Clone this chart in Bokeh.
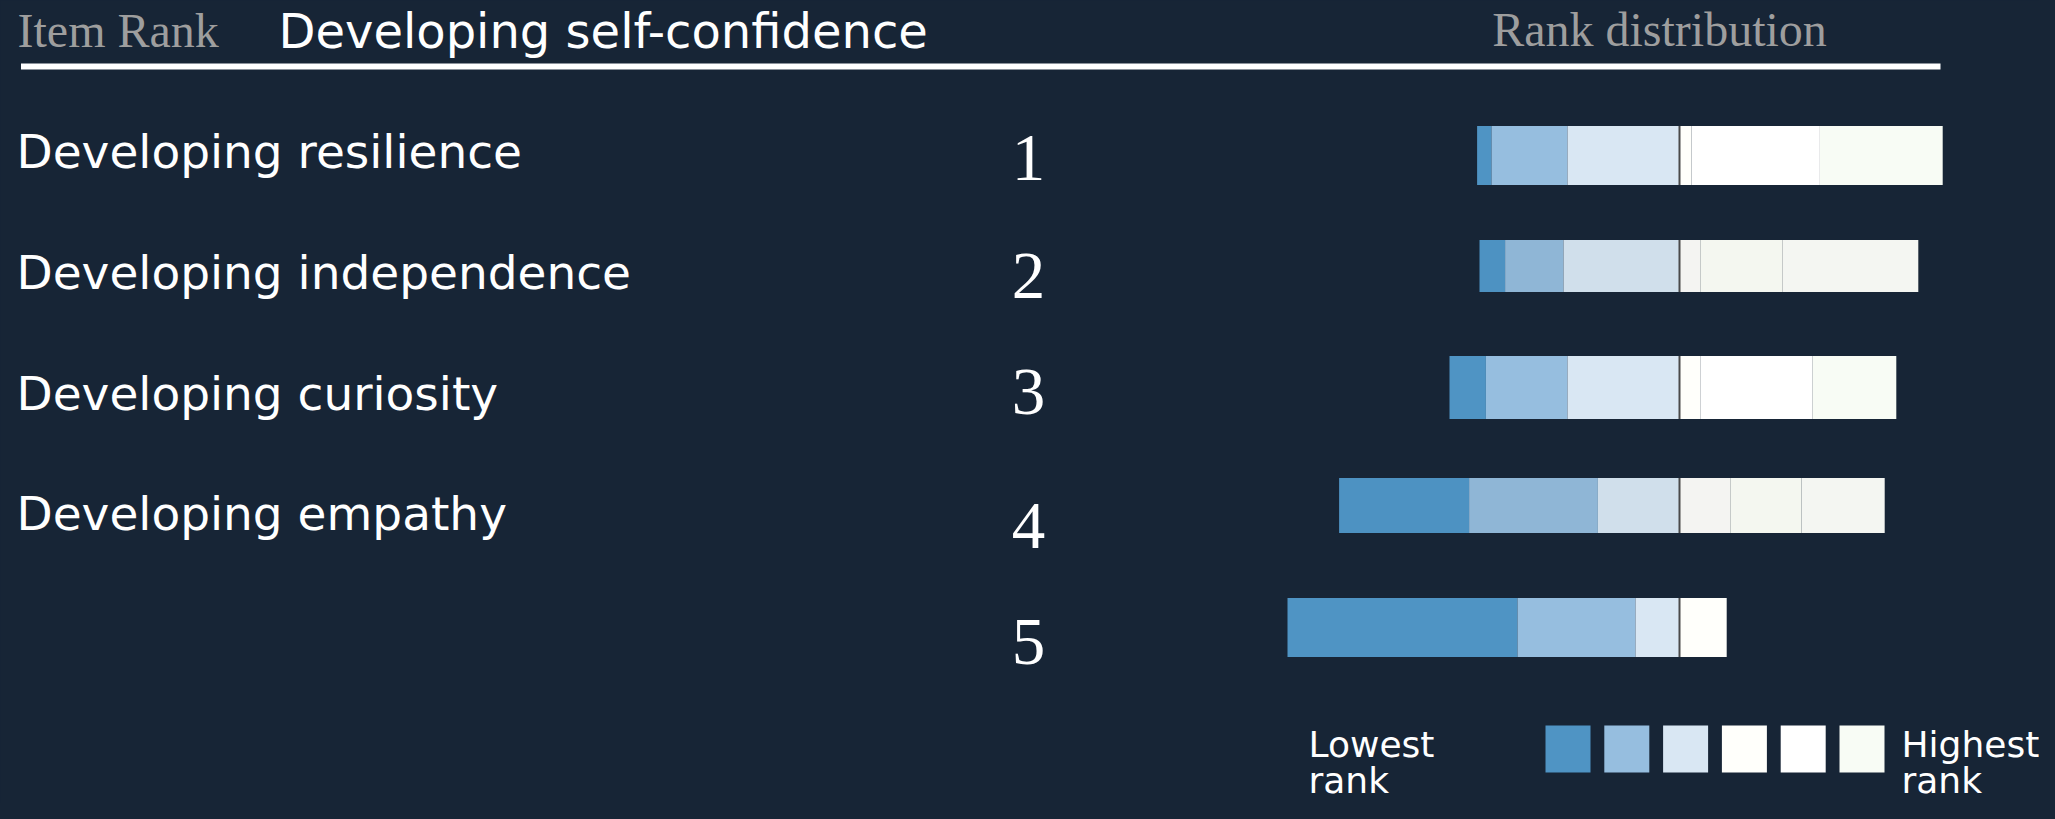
from bokeh.plotting import figure
from bokeh.models import Range1d, ColumnDataSource
from bokeh.core.properties import value
from bokeh.embed import file_html
from bokeh.resources import INLINE

# ---------------- data ----------------
title_item = "Developing self-confidence"
items = ["Developing resilience", "Developing independence",
         "Developing curiosity", "Developing empathy"]
ranks = ["1", "2", "3", "4", "5"]

# share of responses per rank level (lowest -> highest), one value per bar
lvl1 = [3.6, 6.4, 9.1, 32.5, 57.5]
lvl2 = [19.0, 14.6, 20.4, 32.2, 29.5]
lvl3 = [28.0, 29.0, 28.0, 20.4, 11.0]
lvl4 = [3.0, 5.2, 5.2, 12.7, 11.8]
lvl5 = [32.1, 20.6, 28.1, 17.8, 0.0]
lvl6 = [30.7, 33.9, 20.9, 20.8, 0.0]
levels = [lvl1, lvl2, lvl3, lvl4, lvl5, lvl6]
legend_low = ["Lowest", "rank"]
legend_high = ["Highest", "rank"]

# ---------------- style / layout ----------------
BG = "#172536"
PALETTE = ["#4f94c4", "#96bedf", "#d9e7f3", "#fffffb", "#ffffff", "#f8fcf5"]
PALETTE_DIM = ["#4d92c2", "#8fb6d6", "#d0dfeb", "#f4f4f2", "#f4f7f0", "#f4f6f2"]
W, H = 2039, 803
CENTER_PX = 1679.0
PX_PER_UNIT = 4.0
row_y = [155, 265.5, 387, 505, 627]
row_h = [59, 52, 63, 55, 59]
row_dim = [False, True, False, True, False]
SANS = "DejaVu Sans"
SERIF = "Liberation Serif"
K_SANS = 0.36   # baseline correction (fraction of font size)
K_SERIF = 0.38


def ys(baselines, size, k):
    return [b - k * size for b in baselines]


p = figure(width=W, height=H, x_range=Range1d(0, W), y_range=Range1d(H, 0),
           output_backend="svg", toolbar_location=None,
           x_axis_location=None, y_axis_location=None, min_border=0,
           background_fill_color=BG, border_fill_color=BG,
           outline_line_color=None)
p.grid.visible = False
p.extra_x_ranges = {"val": Range1d(-CENTER_PX / PX_PER_UNIT, (W - CENTER_PX) / PX_PER_UNIT)}

# ---------------- header ----------------
p.text(x=[17], y=ys([48], 48, K_SERIF), text=["Item Rank"], text_font=value(SERIF),
       text_font_size="48px", text_color="#9e9e9e", text_baseline="alphabetic")
p.text(x=[278], y=ys([48], 48, K_SANS), text=[title_item], text_font=value(SANS),
       text_font_size="48px", text_color="white", text_baseline="alphabetic")
p.text(x=[1659], y=ys([47], 48, K_SERIF), text=["Rank distribution"],
       text_font=value(SERIF), text_font_size="48px", text_color="#9e9e9e",
       text_baseline="alphabetic", text_align="center")
p.quad(left=[20.5], right=[1940], top=[63], bottom=[69], fill_color="white",
       line_color=None)

# ---------------- item labels ----------------
label_base = [168, 289, 410, 530]
p.text(x=[16] * len(items), y=ys(label_base, 47, K_SANS), text=items,
       text_font=value(SANS), text_font_size="47px", text_color="white",
       text_baseline="alphabetic")

# ---------------- rank numbers ----------------
rank_base = [183, 301, 417, 551, 667]
p.text(x=[1028] * len(ranks), y=ys(rank_base, 67, K_SERIF), text=ranks,
       text_font=value(SERIF), text_font_size="67px", text_color="white",
       text_baseline="alphabetic", text_align="center")

# ---------------- diverging stacked bars ----------------
n = len(ranks)
left_total = [lvl1[i] + lvl2[i] + lvl3[i] for i in range(n)]
starts = [[-left_total[i] for i in range(n)]]
for k in range(len(levels) - 1):
    prev = starts[-1]
    starts.append([prev[i] + levels[k][i] for i in range(n)])
for k, lvl in enumerate(levels):
    cols = [PALETTE_DIM[k] if row_dim[i] else PALETTE[k] for i in range(n)]
    src = ColumnDataSource(dict(
        y=row_y, h=row_h, c=cols,
        left=starts[k], right=[starts[k][i] + lvl[i] for i in range(n)]))
    p.hbar(y="y", left="left", right="right", height="h", source=src,
           fill_color="c", line_color=None, x_range_name="val")

# divider between low and high ranks
p.segment(x0=[0] * n, x1=[0] * n,
          y0=[row_y[i] - row_h[i] / 2 for i in range(n)],
          y1=[row_y[i] + row_h[i] / 2 for i in range(n)],
          line_color="#4a4a4a", line_width=2, x_range_name="val")

# ---------------- legend ----------------
LEG_X0, LEG_PITCH, LEG_W, LEG_TOP, LEG_BOT = 1545, 58.8, 45, 725, 772
p.quad(left=[LEG_X0 + i * LEG_PITCH for i in range(len(PALETTE))],
       right=[LEG_X0 + i * LEG_PITCH + LEG_W for i in range(len(PALETTE))],
       top=[LEG_TOP] * len(PALETTE), bottom=[LEG_BOT] * len(PALETTE),
       fill_color=PALETTE, line_color=None)
leg_base = [757, 793]
p.text(x=[1308, 1308], y=ys(leg_base, 36, K_SANS), text=legend_low,
       text_font=value(SANS), text_font_size="36px", text_color="white",
       text_baseline="alphabetic")
p.text(x=[1901, 1901], y=ys(leg_base, 36, K_SANS), text=legend_high,
       text_font=value(SANS), text_font_size="36px", text_color="white",
       text_baseline="alphabetic")

html = file_html(p, INLINE)
html = html.replace("</head>", "<style>html,body{background:%s;}</style></head>" % BG, 1)
open("out.html", "w").write(html)
